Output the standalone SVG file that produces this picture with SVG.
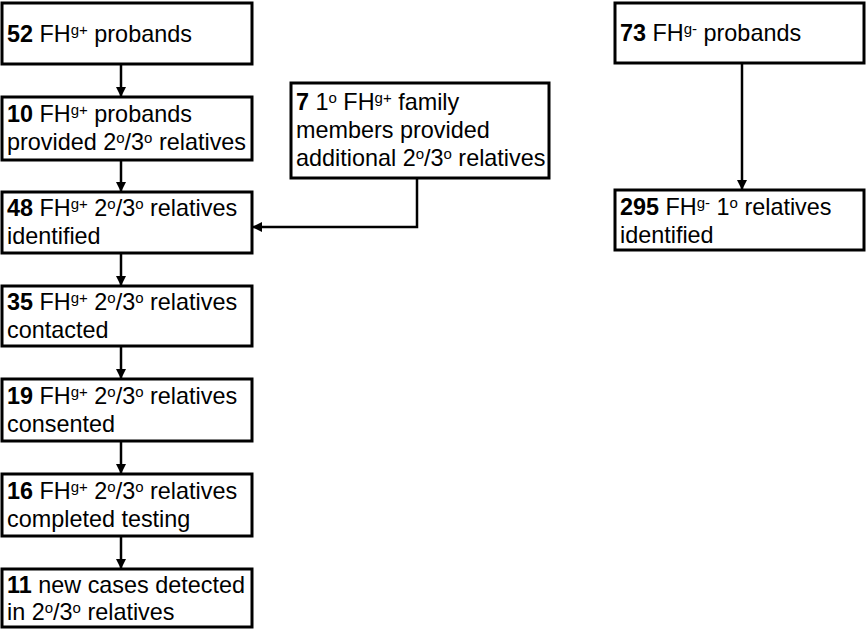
<svg xmlns="http://www.w3.org/2000/svg" width="866" height="630" viewBox="0 0 866 630">
<defs>
<style>
.box{fill:#fff;stroke:#000;stroke-width:3}
text{font-family:"Liberation Sans",Arial,sans-serif;font-size:23.4px;fill:#000}
.b{font-weight:bold}
.s{font-size:15px}
.c{stroke:#000;stroke-width:2.5;fill:none}
</style>
<marker id="ah" viewBox="0 0 10 10" refX="9" refY="5" markerWidth="4" markerHeight="4" orient="auto" markerUnits="strokeWidth">
<path d="M0,0 L10,5 L0,10 z" fill="#000"/>
</marker>
</defs>
<g id="connectors">
<line class="c" x1="121" y1="64" x2="121" y2="96" marker-end="url(#ah)"/>
<line class="c" x1="121" y1="160" x2="121" y2="191" marker-end="url(#ah)"/>
<line class="c" x1="121" y1="253" x2="121" y2="285" marker-end="url(#ah)"/>
<line class="c" x1="121" y1="346" x2="121" y2="378" marker-end="url(#ah)"/>
<line class="c" x1="121" y1="441" x2="121" y2="473" marker-end="url(#ah)"/>
<line class="c" x1="121" y1="536" x2="121" y2="568" marker-end="url(#ah)"/>
<polyline class="c" points="417,178 417,227 253,227" marker-end="url(#ah)"/>
<line class="c" x1="742" y1="63" x2="742" y2="189" marker-end="url(#ah)"/>
</g>
<g id="n52">
<rect class="box" x="2" y="3" width="250" height="61"/>
<text x="7" y="42"><tspan class="b">52</tspan> FH<tspan class="s" dy="-7">g+</tspan><tspan dy="7"> probands</tspan></text>
</g>
<g id="n10">
<rect class="box" x="2" y="97" width="250" height="63"/>
<text x="7" y="122"><tspan class="b">10</tspan> FH<tspan class="s" dy="-7">g+</tspan><tspan dy="7"> probands</tspan></text>
<text x="7" y="150">provided 2<tspan class="s" dy="-7">o</tspan><tspan dy="7">/3</tspan><tspan class="s" dy="-7">o</tspan><tspan dy="7"> relatives</tspan></text>
</g>
<g id="n7">
<rect class="box" x="291" y="83" width="258" height="95"/>
<text x="296" y="110"><tspan class="b">7</tspan> 1<tspan class="s" dy="-7">o</tspan><tspan dy="7"> FH</tspan><tspan class="s" dy="-7">g+</tspan><tspan dy="7"> family</tspan></text>
<text x="296" y="138">members provided</text>
<text x="296" y="166">additional 2<tspan class="s" dy="-7">o</tspan><tspan dy="7">/3</tspan><tspan class="s" dy="-7">o</tspan><tspan dy="7"> relatives</tspan></text>
</g>
<g id="n48">
<rect class="box" x="2" y="192" width="250" height="61"/>
<text x="7" y="216"><tspan class="b">48</tspan> FH<tspan class="s" dy="-7">g+</tspan><tspan dy="7"> 2</tspan><tspan class="s" dy="-7">o</tspan><tspan dy="7">/3</tspan><tspan class="s" dy="-7">o</tspan><tspan dy="7"> relatives</tspan></text>
<text x="7" y="244">identified</text>
</g>
<g id="n35">
<rect class="box" x="2" y="286" width="250" height="60"/>
<text x="7" y="310"><tspan class="b">35</tspan> FH<tspan class="s" dy="-7">g+</tspan><tspan dy="7"> 2</tspan><tspan class="s" dy="-7">o</tspan><tspan dy="7">/3</tspan><tspan class="s" dy="-7">o</tspan><tspan dy="7"> relatives</tspan></text>
<text x="7" y="338">contacted</text>
</g>
<g id="n19">
<rect class="box" x="2" y="379" width="250" height="62"/>
<text x="7" y="404"><tspan class="b">19</tspan> FH<tspan class="s" dy="-7">g+</tspan><tspan dy="7"> 2</tspan><tspan class="s" dy="-7">o</tspan><tspan dy="7">/3</tspan><tspan class="s" dy="-7">o</tspan><tspan dy="7"> relatives</tspan></text>
<text x="7" y="432">consented</text>
</g>
<g id="n16">
<rect class="box" x="2" y="474" width="250" height="62"/>
<text x="7" y="499"><tspan class="b">16</tspan> FH<tspan class="s" dy="-7">g+</tspan><tspan dy="7"> 2</tspan><tspan class="s" dy="-7">o</tspan><tspan dy="7">/3</tspan><tspan class="s" dy="-7">o</tspan><tspan dy="7"> relatives</tspan></text>
<text x="7" y="527">completed testing</text>
</g>
<g id="n11">
<rect class="box" x="2" y="569" width="250" height="58"/>
<text x="7" y="593"><tspan class="b">11</tspan> new cases detected</text>
<text x="7" y="620">in 2<tspan class="s" dy="-7">o</tspan><tspan dy="7">/3</tspan><tspan class="s" dy="-7">o</tspan><tspan dy="7"> relatives</tspan></text>
</g>
<g id="n73">
<rect class="box" x="615" y="3" width="249" height="60"/>
<text x="620" y="41"><tspan class="b">73</tspan> FH<tspan class="s" dy="-7">g-</tspan><tspan dy="7"> probands</tspan></text>
</g>
<g id="n295">
<rect class="box" x="615" y="190" width="249" height="60"/>
<text x="620" y="215"><tspan class="b">295</tspan> FH<tspan class="s" dy="-7">g-</tspan><tspan dy="7"> 1</tspan><tspan class="s" dy="-7">o</tspan><tspan dy="7"> relatives</tspan></text>
<text x="620" y="243">identified</text>
</g>
</svg>
